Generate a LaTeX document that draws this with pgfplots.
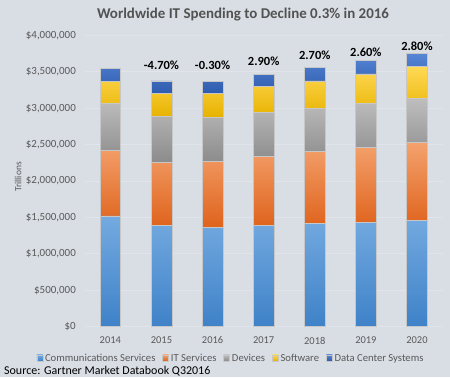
\documentclass[border=0pt]{standalone}
\usepackage{fontspec}
\setmainfont{Carlito}
\usepackage{pgfplots}
\usepackage{pgfplotstable}
\pgfplotsset{compat=1.18}
\definecolor{bg}{HTML}{D9DEE5}
\definecolor{gridc}{HTML}{E1E5EB}
\definecolor{ticktext}{HTML}{595959}
\definecolor{commT}{HTML}{74AAE0}
\definecolor{commB}{HTML}{3F82C8}
\definecolor{itT}{HTML}{F4A26E}
\definecolor{itB}{HTML}{DF631C}
\definecolor{devT}{HTML}{BEBEBE}
\definecolor{devB}{HTML}{8B8B8B}
\definecolor{swT}{HTML}{FFD955}
\definecolor{swB}{HTML}{E7B200}
\definecolor{dcT}{HTML}{5686D4}
\definecolor{dcB}{HTML}{2E5BAD}
\pgfplotstableread{
x comm it dev soft dc
0 1523000 902000 641000 306000 175000
1 1396000 855000 641000 315000 169000
2 1368000 906000 595000 329000 165000
3 1396000 947000 594000 357000 170000
4 1419000 983000 600000 374000 184000
5 1433000 1029000 599000 411000 179000
6 1455000 1080000 600000 434000 183000
}\datatable
\begin{document}
\begin{tikzpicture}[x=1bp,y=1bp]
\fill[bg] (0,0) rectangle (450,377);
\path[use as bounding box] (0,0) rectangle (450,377);
\node[font=\bfseries\fontsize{15}{18}\selectfont, text=black!68] at (243,362) {Worldwide IT Spending to Decline 0.3\% in 2016};
\node[rotate=90, font=\fontsize{9.5}{11}\selectfont, text=ticktext] at (18,200) {Trillions};
\node[anchor=west, inner sep=0pt, font=\fontsize{12}{14}\selectfont, text=black] at (4,6) {Source: Gartner Market Databook Q32016};
\begin{axis}[
  at={(84.8bp,50.3bp)}, anchor=south west, scale only axis,
  width=357.7bp, height=291.4bp,
  ybar stacked, bar width=20.7bp,
  xmin=-0.5, xmax=6.5, ymin=0, ymax=4000000,
  scaled y ticks=false,
  xtick={0,1,2,3,4,5,6},
  xticklabels={2014,2015,2016,2017,2018,2019,2020},
  ytick={0,500000,1000000,1500000,2000000,2500000,3000000,3500000,4000000},
  yticklabels={\$0,{\$500,000},{\$1,000,000},{\$1,500,000},{\$2,000,000},{\$2,500,000},{\$3,000,000},{\$3,500,000},{\$4,000,000}},
  axis line style={draw=none},
  major tick length=0pt,
  ymajorgrids, grid style={draw=gridc, line width=0.8bp},
  tick label style={font=\fontsize{10.5}{12}\selectfont, text=ticktext, inner sep=0pt},
  yticklabel style={anchor=east, xshift=-8.8bp, font=\fontsize{11}{12}\selectfont},
  xticklabel style={anchor=north, yshift=-10bp},
  legend style={at={(0.4087,-0.1084)}, anchor=center, draw=none, fill=none,
    font=\fontsize{10.7}{12}\selectfont, text=ticktext, legend columns=-1,
    /tikz/every even column/.append style={column sep=5bp}},
  legend image code/.code={\fill[#1] (0bp,-2.5bp) rectangle (6bp,3.5bp);},
  every axis plot/.append style={draw=black!22, line width=0.5bp},
]
\addplot[top color=commT, bottom color=commB] table[x=x,y=comm]{\datatable};
\addplot[top color=itT, bottom color=itB] table[x=x,y=it]{\datatable};
\addplot[top color=devT, bottom color=devB] table[x=x,y=dev]{\datatable};
\addplot[top color=swT, bottom color=swB] table[x=x,y=soft]{\datatable};
\addplot[top color=dcT, bottom color=dcB] table[x=x,y=dc]{\datatable};
\legend{Communications Services, IT Services, Devices, Software, Data Center Systems}
\node[font=\bfseries\fontsize{12.5}{14}\selectfont] at (axis cs:1,3592000) {-4.70\%};
\node[font=\bfseries\fontsize{12.5}{14}\selectfont] at (axis cs:2,3592000) {-0.30\%};
\node[font=\bfseries\fontsize{12.5}{14}\selectfont] at (axis cs:3,3647000) {2.90\%};
\node[font=\bfseries\fontsize{12.5}{14}\selectfont] at (axis cs:4,3729000) {2.70\%};
\node[font=\bfseries\fontsize{12.5}{14}\selectfont] at (axis cs:5,3766000) {2.60\%};
\node[font=\bfseries\fontsize{12.5}{14}\selectfont] at (axis cs:6,3843000) {2.80\%};
\end{axis}
\end{tikzpicture}
\end{document}
